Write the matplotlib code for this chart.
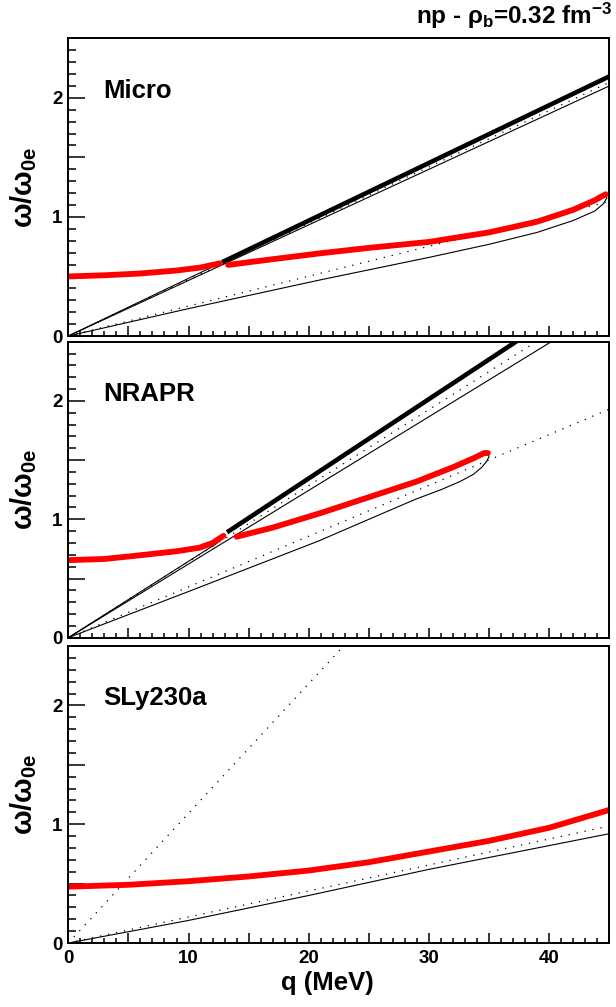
import numpy as np
import matplotlib
matplotlib.use("Agg")
import matplotlib.pyplot as plt
from matplotlib.ticker import MultipleLocator, NullFormatter

plt.rcParams['font.family'] = ['Liberation Sans', 'DejaVu Sans']
plt.rcParams['font.weight'] = 'bold'
plt.rcParams['mathtext.fontset'] = 'custom'
plt.rcParams['mathtext.rm'] = 'Liberation Sans:bold'
plt.rcParams['mathtext.it'] = 'Liberation Sans:bold'
plt.rcParams['mathtext.bf'] = 'Liberation Sans:bold'

# ---- data: q in MeV, omega / omega_0e ----
panelNames = ["Micro", "NRAPR", "SLy230a"]

# Micro
microRed1Q = [0, 3, 6, 9, 11, 12.6]
microRed1W = [0.50, 0.51, 0.525, 0.55, 0.575, 0.61]
microRed2Q = [13.3, 17, 21, 25, 30, 35, 39, 42, 43.8, 44.5, 44.7]
microRed2W = [0.597, 0.645, 0.695, 0.74, 0.79, 0.87, 0.96, 1.06, 1.14, 1.18, 1.19]
microThickQ = [12.8, 45]
microThickW = [0.62, 2.18]
microThinUpQ = [0, 45]
microThinUpW = [0, 2.10]
microThinSmallQ = [0, 12.6]
microThinSmallW = [0, 0.61]
microLoopQ = [0, 10, 20.9, 30, 35, 39, 42, 43.8, 44.5, 44.8, 44.7]
microLoopW = [0, 0.23, 0.47, 0.66, 0.77, 0.87, 0.97, 1.05, 1.11, 1.16, 1.19]
microDotUpQ = [0, 45]
microDotUpW = [0, 2.13]
microDotLowQ = [0, 45]
microDotLowW = [0, 1.13]

# NRAPR
nrapRed1Q = [0, 3, 5.4, 9, 10.9, 12, 12.9]
nrapRed1W = [0.655, 0.665, 0.69, 0.73, 0.76, 0.80, 0.86]
nrapRed2Q = [14.0, 17, 20.9, 24.8, 29, 32, 33.8, 34.6, 34.9]
nrapRed2W = [0.853, 0.93, 1.05, 1.18, 1.32, 1.44, 1.52, 1.56, 1.56]
nrapThickQ = [13.2, 45]
nrapThickW = [0.89, 3.02]
nrapThinUpQ = [0, 45]
nrapThinUpW = [0, 2.80]
nrapThinSmallQ = [0, 12.4]
nrapThinSmallW = [0, 0.80]
nrapLoopQ = [0, 10, 20.9, 25, 28.9, 31, 32.6, 33.7, 34.4, 34.8, 35.0, 34.9]
nrapLoopW = [0, 0.39, 0.82, 1.0, 1.17, 1.25, 1.32, 1.38, 1.44, 1.49, 1.53, 1.56]
nrapDotUpQ = [0, 45]
nrapDotUpW = [0, 2.89]
nrapDotLowQ = [0, 45]
nrapDotLowW = [0, 1.93]

# SLy230a
slyRedQ = [0, 5, 10, 15, 20, 25, 30, 35, 40, 45]
slyRedW = [0.474, 0.49, 0.52, 0.56, 0.61, 0.68, 0.77, 0.86, 0.97, 1.12]
slyThinQ = [0, 10, 20, 30, 40, 45]
slyThinW = [0, 0.19, 0.40, 0.62, 0.82, 0.92]
slyDotSteepQ = [0, 22.9]
slyDotSteepW = [0, 2.5]
slyDotLowQ = [0, 45]
slyDotLowW = [0, 0.985]

W, H = 616, 1007
fig = plt.figure(figsize=(W / 100, H / 100), dpi=100)

def px(x0, y0, x1, y1):                                 # pixel box -> figure fraction rect
    return [x0 / W, 1 - y1 / H, (x1 - x0) / W, (y1 - y0) / H]

boxes = [px(68.3, 38.3, 609.3, 336), px(68.3, 341.7, 609.3, 637.7), px(68.3, 646, 609.3, 943)]
axes = [fig.add_axes(b) for b in boxes]

thin = dict(color='black', lw=0.8)
dots = dict(color='black', lw=0.9, linestyle=(0, (1, 5.5)))
thick = dict(color='black', lw=3.3, solid_capstyle='butt')
red = dict(color='#ff0000', lw=4.2, solid_capstyle='round', solid_joinstyle='round')

a = axes[0]
a.plot(microThinUpQ, microThinUpW, **thin)
a.plot(microThinSmallQ, microThinSmallW, **thin)
a.plot(microLoopQ, microLoopW, **thin)
a.plot(microDotUpQ, microDotUpW, **dots)
a.plot(microDotLowQ, microDotLowW, **dots)
a.plot(microThickQ, microThickW, **thick)
a.plot(microRed1Q, microRed1W, **red)
a.plot(microRed2Q, microRed2W, **red)

a = axes[1]
a.plot(nrapThinUpQ, nrapThinUpW, **thin)
a.plot(nrapThinSmallQ, nrapThinSmallW, **thin)
a.plot(nrapLoopQ, nrapLoopW, **thin)
a.plot(nrapDotUpQ, nrapDotUpW, **dots)
a.plot(nrapDotLowQ, nrapDotLowW, **dots)
a.plot(nrapThickQ, nrapThickW, **thick)
a.plot(nrapRed1Q, nrapRed1W, **red)
a.plot(nrapRed2Q, nrapRed2W, **red)

a = axes[2]
a.plot(slyThinQ, slyThinW, **thin)
a.plot(slyDotSteepQ, slyDotSteepW, **dots)
a.plot(slyDotLowQ, slyDotLowW, **dots)
a.plot(slyRedQ, slyRedW, **red)

for i, a in enumerate(axes):
    a.set_xlim(0, 45)
    a.set_ylim(0, 2.5)
    for s in a.spines.values():
        s.set_linewidth(1.4)
    a.xaxis.set_major_locator(MultipleLocator(5))
    a.xaxis.set_minor_locator(MultipleLocator(1))
    a.yaxis.set_major_locator(MultipleLocator(0.5))
    a.yaxis.set_minor_locator(MultipleLocator(0.1))
    a.tick_params(which='both', direction='in', top=False, right=False, width=1.1)
    a.tick_params(axis='y', which='major', length=12, pad=4, labelsize=13.5)
    a.tick_params(axis='y', which='minor', length=6)
    a.tick_params(axis='x', which='major', length=7, pad=5, labelsize=13.5)
    a.tick_params(axis='x', which='minor', length=3.5)
    a.yaxis.set_major_formatter(plt.FuncFormatter(lambda v, p: '%d' % v if abs(v - round(v)) < 1e-6 else ''))
    if i < 2:
        a.xaxis.set_major_formatter(NullFormatter())
    else:
        a.xaxis.set_major_formatter(plt.FuncFormatter(lambda v, p: '%d' % v if int(round(v)) % 10 == 0 else ''))
    a.text(0.065, 0.80, panelNames[i], transform=a.transAxes, fontsize=18.5, fontweight='bold', va='baseline', ha='left')
    yc = 1 - (boxes[i][1] + boxes[i][3] / 2)
    fig.text(24 / W, 1 - yc, r'$\omega/\omega_{0e}$', rotation=90, fontsize=21, ha='center', va='center')

fig.text(327 / W, 1 - 983 / H, 'q (MeV)', fontsize=18.5, fontweight='bold', ha='center', va='center')
fig.text(612 / W, 1 - 24 / H, r'np - $\rho_{b}$=0.32 fm$^{-3}$', fontsize=17.5, fontweight='bold', ha='right', va='baseline')

fig.savefig('out.png', dpi=100)
